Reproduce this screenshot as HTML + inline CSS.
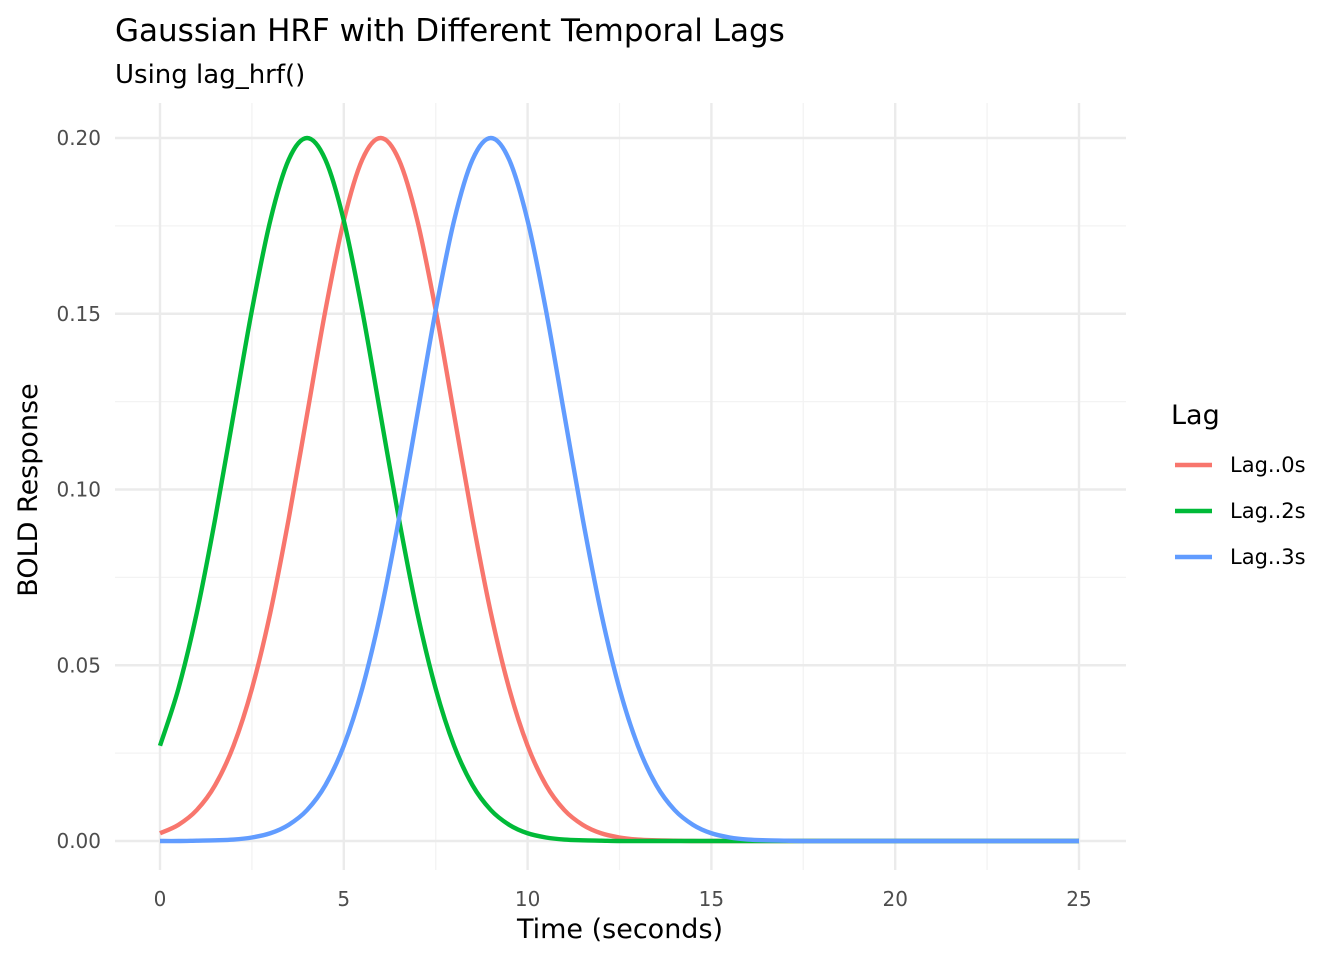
<!DOCTYPE html>
<html><head><meta charset="utf-8"><style>
body{margin:0;background:#fff;}
svg{display:block;font-family:"DejaVu Sans","Liberation Sans",sans-serif;}
</style></head><body>
<svg id="chart" width="1344" height="960" viewBox="0 0 1344 960">
<text x="115" y="41" font-size="31" fill="#000">Gaussian HRF with Different Temporal Lags</text>
<text x="115" y="83" font-size="26" fill="#000">Using lag_hrf()</text>
<g id="grid"></g>
<g id="lines"></g>
<g id="axes"></g>
<text x="620" y="938" font-size="27" text-anchor="middle" fill="#000">Time (seconds)</text>
<text transform="translate(37,490) rotate(-90)" font-size="27" text-anchor="middle" fill="#000">BOLD Response</text>
<g id="legend">
<text x="1171" y="424" font-size="27" fill="#000">Lag</text>
</g>
</svg>
<script>
const times = [];
for (let i = 0; i <= 50; i++) times.push(i * 0.5);
const seriesNames = ["Lag..0s", "Lag..2s", "Lag..3s"];
const lag0 = [.0022,.0046,.0088,.0159,.0271,.0433,.0649,.0916,.1213,.1510,.1765,.1938,.2,.1938,.1765,.1510,.1213,.0916,.0649,.0433,.0271,.0159,.0088,.0046,.0022,.0010,.0004,.0002,.0001,0,0,0,0,0,0,0,0,0,0,0,0,0,0,0,0,0,0,0,0,0,0];
const lag2 = [.0271,.0433,.0649,.0916,.1213,.1510,.1765,.1938,.2,.1938,.1765,.1510,.1213,.0916,.0649,.0433,.0271,.0159,.0088,.0046,.0022,.0010,.0004,.0002,.0001,0,0,0,0,0,0,0,0,0,0,0,0,0,0,0,0,0,0,0,0,0,0,0,0,0,0];
const lag3 = [0,0,.0001,.0002,.0004,.0010,.0022,.0046,.0088,.0159,.0271,.0433,.0649,.0916,.1213,.1510,.1765,.1938,.2,.1938,.1765,.1510,.1213,.0916,.0649,.0433,.0271,.0159,.0088,.0046,.0022,.0010,.0004,.0002,.0001,0,0,0,0,0,0,0,0,0,0,0,0,0,0,0,0];
const xTicks = [0,5,10,15,20,25];
const xTickLabels = ["0","5","10","15","20","25"];
const yTicks = [0,0.05,0.10,0.15,0.20];
const yTickLabels = ["0.00","0.05","0.10","0.15","0.20"];
const colors = ["#F8766D","#00BA38","#619CFF"];

const NS = "http://www.w3.org/2000/svg";
const X = t => 160 + t * (1079 - 160) / 25;
const Y = v => 841 - v * (841 - 138) / 0.2;
const PL = 115, PR = 1126, PT = 103, PB = 870;
function mk(tag, attrs, parent){const e=document.createElementNS(NS,tag);for(const k in attrs)e.setAttribute(k,attrs[k]);parent.appendChild(e);return e;}
const grid = document.getElementById('grid'), axes = document.getElementById('axes'), lines = document.getElementById('lines'), legend = document.getElementById('legend');
for (let i = 0; i < xTicks.length - 1; i++) {
  const m = (xTicks[i] + xTicks[i+1]) / 2;
  const l = mk('line',{x1:X(m),x2:X(m),y1:PT,y2:PB,stroke:'#f3f3f3','stroke-width':1.3},grid);
  
  
}
for (let i = 0; i < yTicks.length - 1; i++) {
  const m = (yTicks[i] + yTicks[i+1]) / 2;
  const l = mk('line',{x1:PL,x2:PR,y1:Y(m),y2:Y(m),stroke:'#f3f3f3','stroke-width':1.3},grid);
  
  
}
xTicks.forEach((t,i) => {
  const l = mk('line',{x1:X(t),x2:X(t),y1:PT,y2:PB,stroke:'#ebebeb','stroke-width':2.4},grid);
  
  
  const tx = mk('text',{x:X(t),y:906,'font-size':20,'text-anchor':'middle',fill:'#4d4d4d'},axes);
  tx.textContent = xTickLabels[i];
  
  
});
yTicks.forEach((v,i) => {
  const l = mk('line',{x1:PL,x2:PR,y1:Y(v),y2:Y(v),stroke:'#ebebeb','stroke-width':2.4},grid);
  
  
  const tx = mk('text',{x:101,y:Y(v)+7,'font-size':20,'text-anchor':'end',fill:'#4d4d4d'},axes);
  tx.textContent = yTickLabels[i];
  
  
});
function smoothPath(xs, ys){
  const p = xs.map((t,i)=>[X(t),Y(ys[i])]);
  let d = `M${p[0][0]},${p[0][1]}`;
  for (let i=0;i<p.length-1;i++){
    const p0=p[Math.max(0,i-1)],p1=p[i],p2=p[i+1],p3=p[Math.min(p.length-1,i+2)];
    const c1=[p1[0]+(p2[0]-p0[0])/6,p1[1]+(p2[1]-p0[1])/6];
    const c2=[p2[0]-(p3[0]-p1[0])/6,p2[1]-(p3[1]-p1[1])/6];
    d+=` C${c1[0]},${c1[1]} ${c2[0]},${c2[1]} ${p2[0]},${p2[1]}`;
  }
  return d;
}
[lag0,lag2,lag3].forEach((s,k) => {
  const path = mk('path',{d:smoothPath(times,s),fill:'none',stroke:colors[k],'stroke-width':4.4,'stroke-linejoin':'round'},lines);
  
  
  const y = 465 + k*46;
  const ll = mk('line',{x1:1175,x2:1212,y1:y,y2:y,stroke:colors[k],'stroke-width':4.4},legend);
  
  
  const lt = mk('text',{x:1230,y:y+7,'font-size':21,fill:'#000'},legend);
  lt.textContent = seriesNames[k];
  
  
});
</script>
</body></html>
